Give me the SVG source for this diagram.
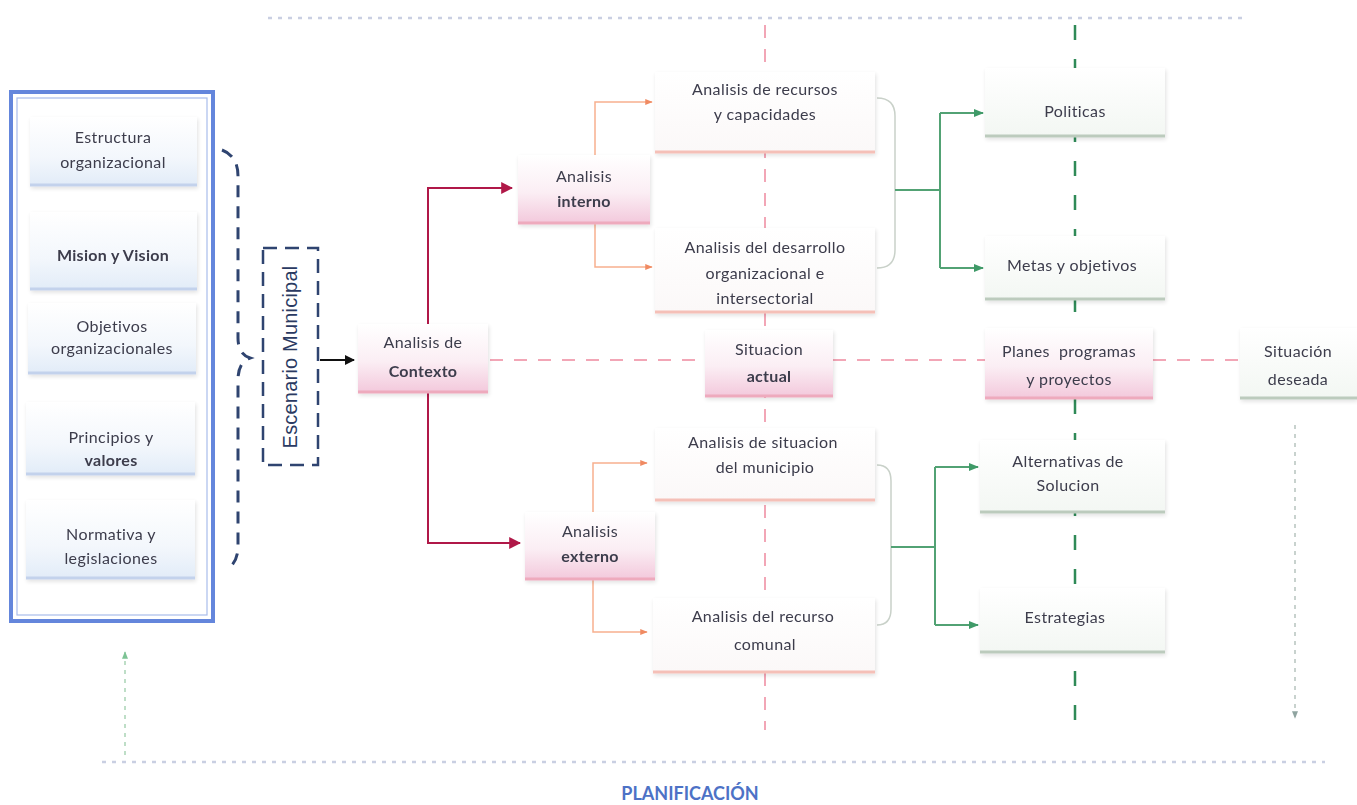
<svg xmlns="http://www.w3.org/2000/svg" width="1357" height="805" viewBox="0 0 1357 805">
  <defs>
    <linearGradient id="gPink" x1="0" y1="0" x2="0" y2="1">
      <stop offset="0" stop-color="#ffffff"/>
      <stop offset="0.55" stop-color="#fbeef4"/>
      <stop offset="1" stop-color="#f3c9dc"/>
    </linearGradient>
    <linearGradient id="gBlue" x1="0" y1="0" x2="0" y2="1">
      <stop offset="0" stop-color="#ffffff"/>
      <stop offset="0.6" stop-color="#f3f7fc"/>
      <stop offset="1" stop-color="#e2ecf8"/>
    </linearGradient>
    <linearGradient id="gWhite" x1="0" y1="0" x2="0" y2="1">
      <stop offset="0" stop-color="#ffffff"/>
      <stop offset="1" stop-color="#fbf8f8"/>
    </linearGradient>
    <linearGradient id="gGreen" x1="0" y1="0" x2="0" y2="1">
      <stop offset="0" stop-color="#ffffff"/>
      <stop offset="1" stop-color="#f3f7f3"/>
    </linearGradient>
    <filter id="soft" x="-10%" y="-10%" width="125%" height="130%">
      <feGaussianBlur in="SourceAlpha" stdDeviation="2"/>
      <feOffset dx="1" dy="2"/>
      <feComponentTransfer><feFuncA type="linear" slope="0.12"/></feComponentTransfer>
      <feMerge><feMergeNode/><feMergeNode in="SourceGraphic"/></feMerge>
    </filter>
    <marker id="arBlack" viewBox="0 0 10 10" refX="9" refY="5" markerWidth="5" markerHeight="5" orient="auto">
      <path d="M0,0 L10,5 L0,10 z" fill="#111"/>
    </marker>
    <marker id="arRed" viewBox="0 0 10 10" refX="9" refY="5" markerWidth="6" markerHeight="6" orient="auto">
      <path d="M0,0 L10,5 L0,10 z" fill="#b01848"/>
    </marker>
    <marker id="arOrange" viewBox="0 0 10 10" refX="9" refY="5" markerWidth="5" markerHeight="5" orient="auto">
      <path d="M0,1 L10,5 L0,9 z" fill="#f08a62"/>
    </marker>
    <marker id="arGreen" viewBox="0 0 10 10" refX="9" refY="5" markerWidth="5" markerHeight="5" orient="auto">
      <path d="M0,1 L10,5 L0,9 z" fill="#3f9a68"/>
    </marker>
    <marker id="arGrey" viewBox="0 0 10 10" refX="9" refY="5" markerWidth="5" markerHeight="5" orient="auto">
      <path d="M0,1 L10,5 L0,9 z" fill="#8fa4a0"/>
    </marker>
    <marker id="arMint" viewBox="0 0 10 10" refX="9" refY="5" markerWidth="5" markerHeight="5" orient="auto">
      <path d="M0,1 L10,5 L0,9 z" fill="#7cc394"/>
    </marker>
  </defs>
  <style>
    text { font-family: Lato, "Open Sans", "Liberation Sans", sans-serif; font-size: 16px; letter-spacing: 0.4px; fill: #3c3c4c; text-anchor: middle; }
    .b { font-weight: bold; letter-spacing: 0.3px; }
    .pink { fill: url(#gPink); }
    .blue { fill: url(#gBlue); }
    .white { fill: url(#gWhite); }
    .green { fill: url(#gGreen); }
    .edgePink { stroke: #eeaabd; stroke-width: 3; fill: none; }
    .edgePeach { stroke: #f5c0b8; stroke-width: 3; fill: none; }
    .edgeBlue { stroke: #c3d2ec; stroke-width: 3; fill: none; }
    .edgeGreen { stroke: #bccbbd; stroke-width: 3; fill: none; }
    .guidePink { stroke: #f2a6b6; stroke-width: 2; stroke-dasharray: 13 11; fill: none; }
    .guideGreen { stroke: #2f8a57; stroke-width: 2.5; stroke-dasharray: 15 19; fill: none; }
    .dots { stroke: #c9cfe2; stroke-width: 2.5; stroke-dasharray: 4 6; fill: none; }
    .red { stroke: #b01848; stroke-width: 2; fill: none; }
    .orange { stroke: #f7b08e; stroke-width: 1.5; fill: none; }
    .grn { stroke: #52a274; stroke-width: 2; fill: none; }
    .brace { stroke: #c9d1c9; stroke-width: 1.5; fill: none; }
    .navyDash { stroke: #2f4470; stroke-width: 3; stroke-dasharray: 12 9; fill: none; }
  </style>

  <rect width="1357" height="805" fill="#ffffff"/>

  <!-- background guide lines of the planning frame -->
  <g id="guides">
    <line class="dots" x1="268" y1="18" x2="1242" y2="18"/>
    <line class="dots" x1="102" y1="762" x2="1325" y2="762"/>
    <line x1="125" y1="755" x2="125" y2="652" stroke="#a9d3b5" stroke-width="1.5" stroke-dasharray="4 5" marker-end="url(#arMint)"/>
    <line x1="1295" y1="425" x2="1295" y2="718" stroke="#b6c4be" stroke-width="1.5" stroke-dasharray="4 5" marker-end="url(#arGrey)"/>
    <line class="guidePink" x1="765" y1="25" x2="765" y2="730"/>
    <line class="guideGreen" x1="1075" y1="25" x2="1075" y2="730"/>
    <path class="guidePink" d="M490 360 H705 M833 360 H985 M1153 360 H1240"/>
  </g>

  <!-- connectors -->
  <g id="connectors">
    <line x1="320" y1="360" x2="354" y2="360" stroke="#111" stroke-width="2" marker-end="url(#arBlack)"/>
    <path class="red" d="M428 324 V188 H512" marker-end="url(#arRed)"/>
    <path class="red" d="M428 392 V543 H520" marker-end="url(#arRed)"/>
    <path class="orange" d="M595 155 V102 H652" marker-end="url(#arOrange)"/>
    <path class="orange" d="M595 223 V267 H652" marker-end="url(#arOrange)"/>
    <path class="orange" d="M593 512 V463 H647" marker-end="url(#arOrange)"/>
    <path class="orange" d="M593 579 V632 H647" marker-end="url(#arOrange)"/>
    <path class="brace" d="M877 98 Q895 98 895 116 V250 Q895 268 877 268"/>
    <path class="brace" d="M877 465 Q891 465 891 481 V609 Q891 625 877 625"/>
    <path class="grn" d="M895 190 H940 M940 113 V268"/>
    <path class="grn" d="M940 113 H983" marker-end="url(#arGreen)"/>
    <path class="grn" d="M940 268 H983" marker-end="url(#arGreen)"/>
    <path class="grn" d="M891 547 H935 M935 467 V625"/>
    <path class="grn" d="M935 467 H978" marker-end="url(#arGreen)"/>
    <path class="grn" d="M935 625 H978" marker-end="url(#arGreen)"/>
  </g>

  <!-- municipal scenario frame -->
  <g id="marco">
    <rect x="11" y="92" width="202" height="529" fill="#ffffff" stroke="#6486dc" stroke-width="4"/>
    <rect x="17" y="98" width="190" height="517" fill="none" stroke="#a9bcec" stroke-width="1.2"/>
  </g>

  <g id="estructura" filter="url(#soft)">
    <rect class="blue" x="30" y="117" width="167" height="68"/>
    <line class="edgeBlue" x1="30" y1="185" x2="197" y2="185"/>
    <text x="113" y="143">Estructura</text>
    <text x="113" y="168">organizacional</text>
  </g>
  <g id="mision" filter="url(#soft)">
    <rect class="blue" x="30" y="212" width="167" height="77"/>
    <line class="edgeBlue" x1="30" y1="289" x2="197" y2="289"/>
    <text x="113" y="261" class="b">Mision y Vision</text>
  </g>
  <g id="objetivos" filter="url(#soft)">
    <rect class="blue" x="28" y="303" width="168" height="70"/>
    <line class="edgeBlue" x1="28" y1="373" x2="196" y2="373"/>
    <text x="112" y="332">Objetivos</text>
    <text x="112" y="354">organizacionales</text>
  </g>
  <g id="principios" filter="url(#soft)">
    <rect class="blue" x="26" y="402" width="169" height="72"/>
    <line class="edgeBlue" x1="26" y1="474" x2="195" y2="474"/>
    <text x="111" y="443">Principios y</text>
    <text x="111" y="466" class="b">valores</text>
  </g>
  <g id="normativa" filter="url(#soft)">
    <rect class="blue" x="26" y="500" width="169" height="78"/>
    <line class="edgeBlue" x1="26" y1="578" x2="195" y2="578"/>
    <text x="111" y="540">Normativa y</text>
    <text x="111" y="564">legislaciones</text>
  </g>

  <g id="escenario">
    <path class="navyDash" d="M222 150 Q238 156 238 176 V338 Q238 354 250 358 Q238 362 238 380 V546 Q238 563 226 570"/>
    <rect x="263" y="248" width="55" height="217" fill="none" stroke="#2f4470" stroke-width="2.5" stroke-dasharray="14 8"/>
    <text transform="translate(297 357) rotate(-90)" style="font-family:'Liberation Sans', Arial, sans-serif; font-size:20px; letter-spacing:0.2px; fill:#2a3a62;">Escenario Municipal</text>
  </g>

  <!-- analysis chain -->
  <g id="contexto" filter="url(#soft)">
    <rect class="pink" x="358" y="324" width="130" height="68"/>
    <line class="edgePink" x1="358" y1="392" x2="488" y2="392"/>
    <text x="423" y="348">Analisis de</text>
    <text x="423" y="377" class="b">Contexto</text>
  </g>
  <g id="interno" filter="url(#soft)">
    <rect class="pink" x="518" y="155" width="132" height="68"/>
    <line class="edgePink" x1="518" y1="223" x2="650" y2="223"/>
    <text x="584" y="182">Analisis</text>
    <text x="584" y="207" class="b">interno</text>
  </g>
  <g id="externo" filter="url(#soft)">
    <rect class="pink" x="525" y="512" width="130" height="67"/>
    <line class="edgePink" x1="525" y1="579" x2="655" y2="579"/>
    <text x="590" y="537">Analisis</text>
    <text x="590" y="562" class="b">externo</text>
  </g>

  <g id="recursos" filter="url(#soft)">
    <rect class="white" x="655" y="72" width="220" height="80"/>
    <line class="edgePeach" x1="655" y1="152" x2="875" y2="152"/>
    <text x="765" y="95">Analisis de recursos</text>
    <text x="765" y="120">y capacidades</text>
  </g>
  <g id="desarrollo" filter="url(#soft)">
    <rect class="white" x="655" y="228" width="220" height="84"/>
    <line class="edgePeach" x1="655" y1="312" x2="875" y2="312"/>
    <text x="765" y="253">Analisis del desarrollo</text>
    <text x="765" y="279">organizacional e</text>
    <text x="765" y="304">intersectorial</text>
  </g>
  <g id="situacion-actual" filter="url(#soft)">
    <rect class="pink" x="705" y="330" width="128" height="66"/>
    <line class="edgePink" x1="705" y1="396" x2="833" y2="396"/>
    <text x="769" y="355">Situacion</text>
    <text x="769" y="382" class="b">actual</text>
  </g>
  <g id="municipio" filter="url(#soft)">
    <rect class="white" x="655" y="428" width="220" height="72"/>
    <line class="edgePeach" x1="655" y1="500" x2="875" y2="500"/>
    <text x="763" y="448">Analisis de situacion</text>
    <text x="765" y="473">del municipio</text>
  </g>
  <g id="comunal" filter="url(#soft)">
    <rect class="white" x="653" y="598" width="222" height="74"/>
    <line class="edgePeach" x1="653" y1="672" x2="875" y2="672"/>
    <text x="763" y="622">Analisis del recurso</text>
    <text x="765" y="650">comunal</text>
  </g>

  <!-- planning outputs -->
  <g id="politicas" filter="url(#soft)">
    <rect class="green" x="985" y="68" width="180" height="68"/>
    <line class="edgeGreen" x1="985" y1="136" x2="1165" y2="136"/>
    <text x="1075" y="117">Politicas</text>
  </g>
  <g id="metas" filter="url(#soft)">
    <rect class="green" x="985" y="236" width="180" height="63"/>
    <line class="edgeGreen" x1="985" y1="299" x2="1165" y2="299"/>
    <text x="1072" y="271">Metas y objetivos</text>
  </g>
  <g id="planes" filter="url(#soft)">
    <rect class="pink" x="985" y="328" width="168" height="70"/>
    <line class="edgePink" x1="985" y1="398" x2="1153" y2="398"/>
    <text x="1069" y="357" xml:space="preserve">Planes  programas</text>
    <text x="1069" y="385">y proyectos</text>
  </g>
  <g id="deseada" filter="url(#soft)">
    <rect class="green" x="1240" y="328" width="117" height="70"/>
    <line class="edgeGreen" x1="1240" y1="398" x2="1357" y2="398"/>
    <text x="1298" y="357">Situación</text>
    <text x="1298" y="385">deseada</text>
  </g>
  <g id="alternativas" filter="url(#soft)">
    <rect class="green" x="980" y="440" width="185" height="72"/>
    <line class="edgeGreen" x1="980" y1="512" x2="1165" y2="512"/>
    <text x="1068" y="467">Alternativas de</text>
    <text x="1068" y="491">Solucion</text>
  </g>
  <g id="estrategias" filter="url(#soft)">
    <rect class="green" x="980" y="588" width="185" height="64"/>
    <line class="edgeGreen" x1="980" y1="652" x2="1165" y2="652"/>
    <text x="1065" y="623">Estrategias</text>
  </g>

  <g id="titulo">
    <text x="690" y="800" style="font-size:18px; font-weight:bold; letter-spacing:0; fill:#4d72c6;">PLANIFICACIÓN</text>
  </g>
</svg>
